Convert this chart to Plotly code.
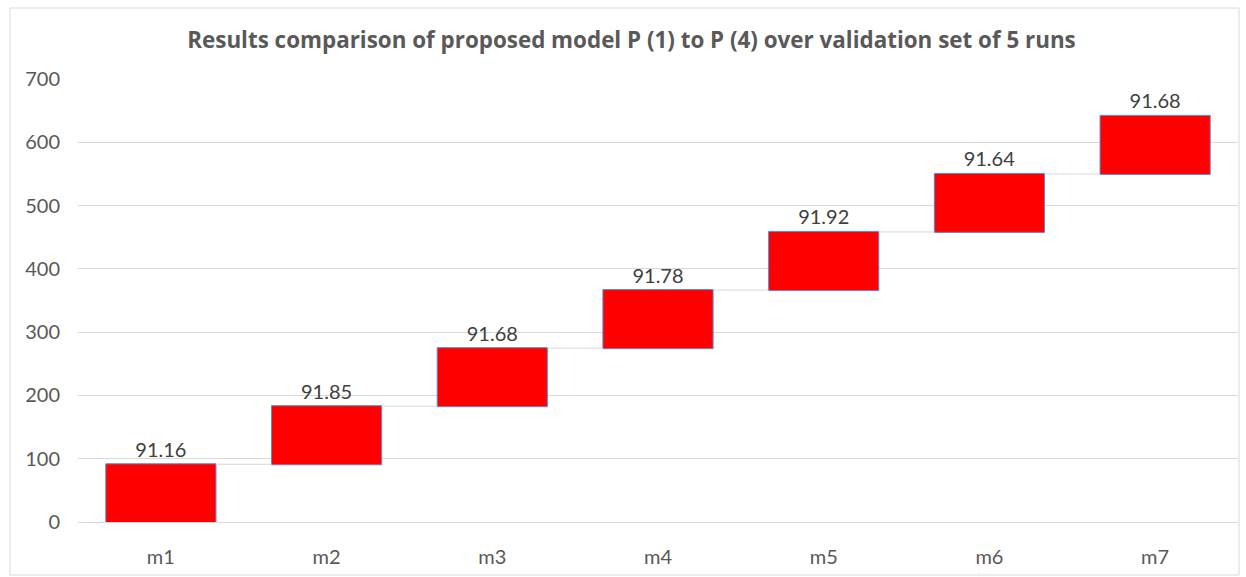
import plotly.graph_objects as go

# Per-run accuracy of each model, stacked as a waterfall
models = ["m1", "m2", "m3", "m4", "m5", "m6", "m7"]
scores = [91.16, 91.85, 91.68, 91.78, 91.92, 91.64, 91.68]
y_ticks = [0, 100, 200, 300, 400, 500, 600, 700]

W, H = 1246, 577
grey_text = "#595959"
font_family = "Lato, 'Open Sans', 'Liberation Sans', sans-serif"
title_family = "'Open Sans', Lato, sans-serif"

fig = go.Figure(
    go.Waterfall(
        x=models,
        y=scores,
        measure=["relative"] * len(scores),
        text=[f"{v:.2f}" for v in scores],
        textposition="outside",
        textfont=dict(size=20, color="#404040", family=font_family),
        increasing=dict(marker=dict(color="#FF0000", line=dict(color="#5B8BD0", width=1))),
        decreasing=dict(marker=dict(color="#FF0000", line=dict(color="#5B8BD0", width=1))),
        connector=dict(line=dict(color="#D9D9D9", width=1)),
        width=0.665,
        cliponaxis=False,
        showlegend=False,
    )
)

fig.update_layout(
    width=W,
    height=H,
    margin=dict(l=78, r=8, t=79, b=55),
    paper_bgcolor="white",
    plot_bgcolor="white",
    font=dict(family=font_family, color=grey_text),
    title=dict(
        text="<b>Results comparison of proposed model P (1) to P (4) over validation set of 5 runs</b>",
        font=dict(size=22.4, color=grey_text, family=title_family),
        x=631.5 / W,
        xanchor="center",
        xref="container",
        y=1 - 40 / H,
        yanchor="middle",
        yref="container",
    ),
    xaxis=dict(
        showgrid=False,
        showline=False,
        ticks="",
        tickfont=dict(size=20, color=grey_text),
        ticklabelstandoff=21,
    ),
    yaxis=dict(
        range=[0, 700],
        tickvals=y_ticks,
        showgrid=True,
        gridcolor="#D9D9D9",
        gridwidth=1,
        zeroline=True,
        zerolinecolor="#D9D9D9",
        zerolinewidth=1,
        showline=False,
        ticks="",
        tickfont=dict(size=20, color=grey_text),
        ticklabelstandoff=17,
    ),
    shapes=[
        dict(
            type="rect",
            xref="paper",
            yref="paper",
            x0=-68 / 1160,
            x1=1 + 1 / 1160,
            y0=-(577 - 522 - 2) / 443,
            y1=1 + (79 - 8) / 443,
            line=dict(color="#D9D9D9", width=1),
            fillcolor="rgba(0,0,0,0)",
            layer="below",
        )
    ],
)

fig.write_html("out.html")
